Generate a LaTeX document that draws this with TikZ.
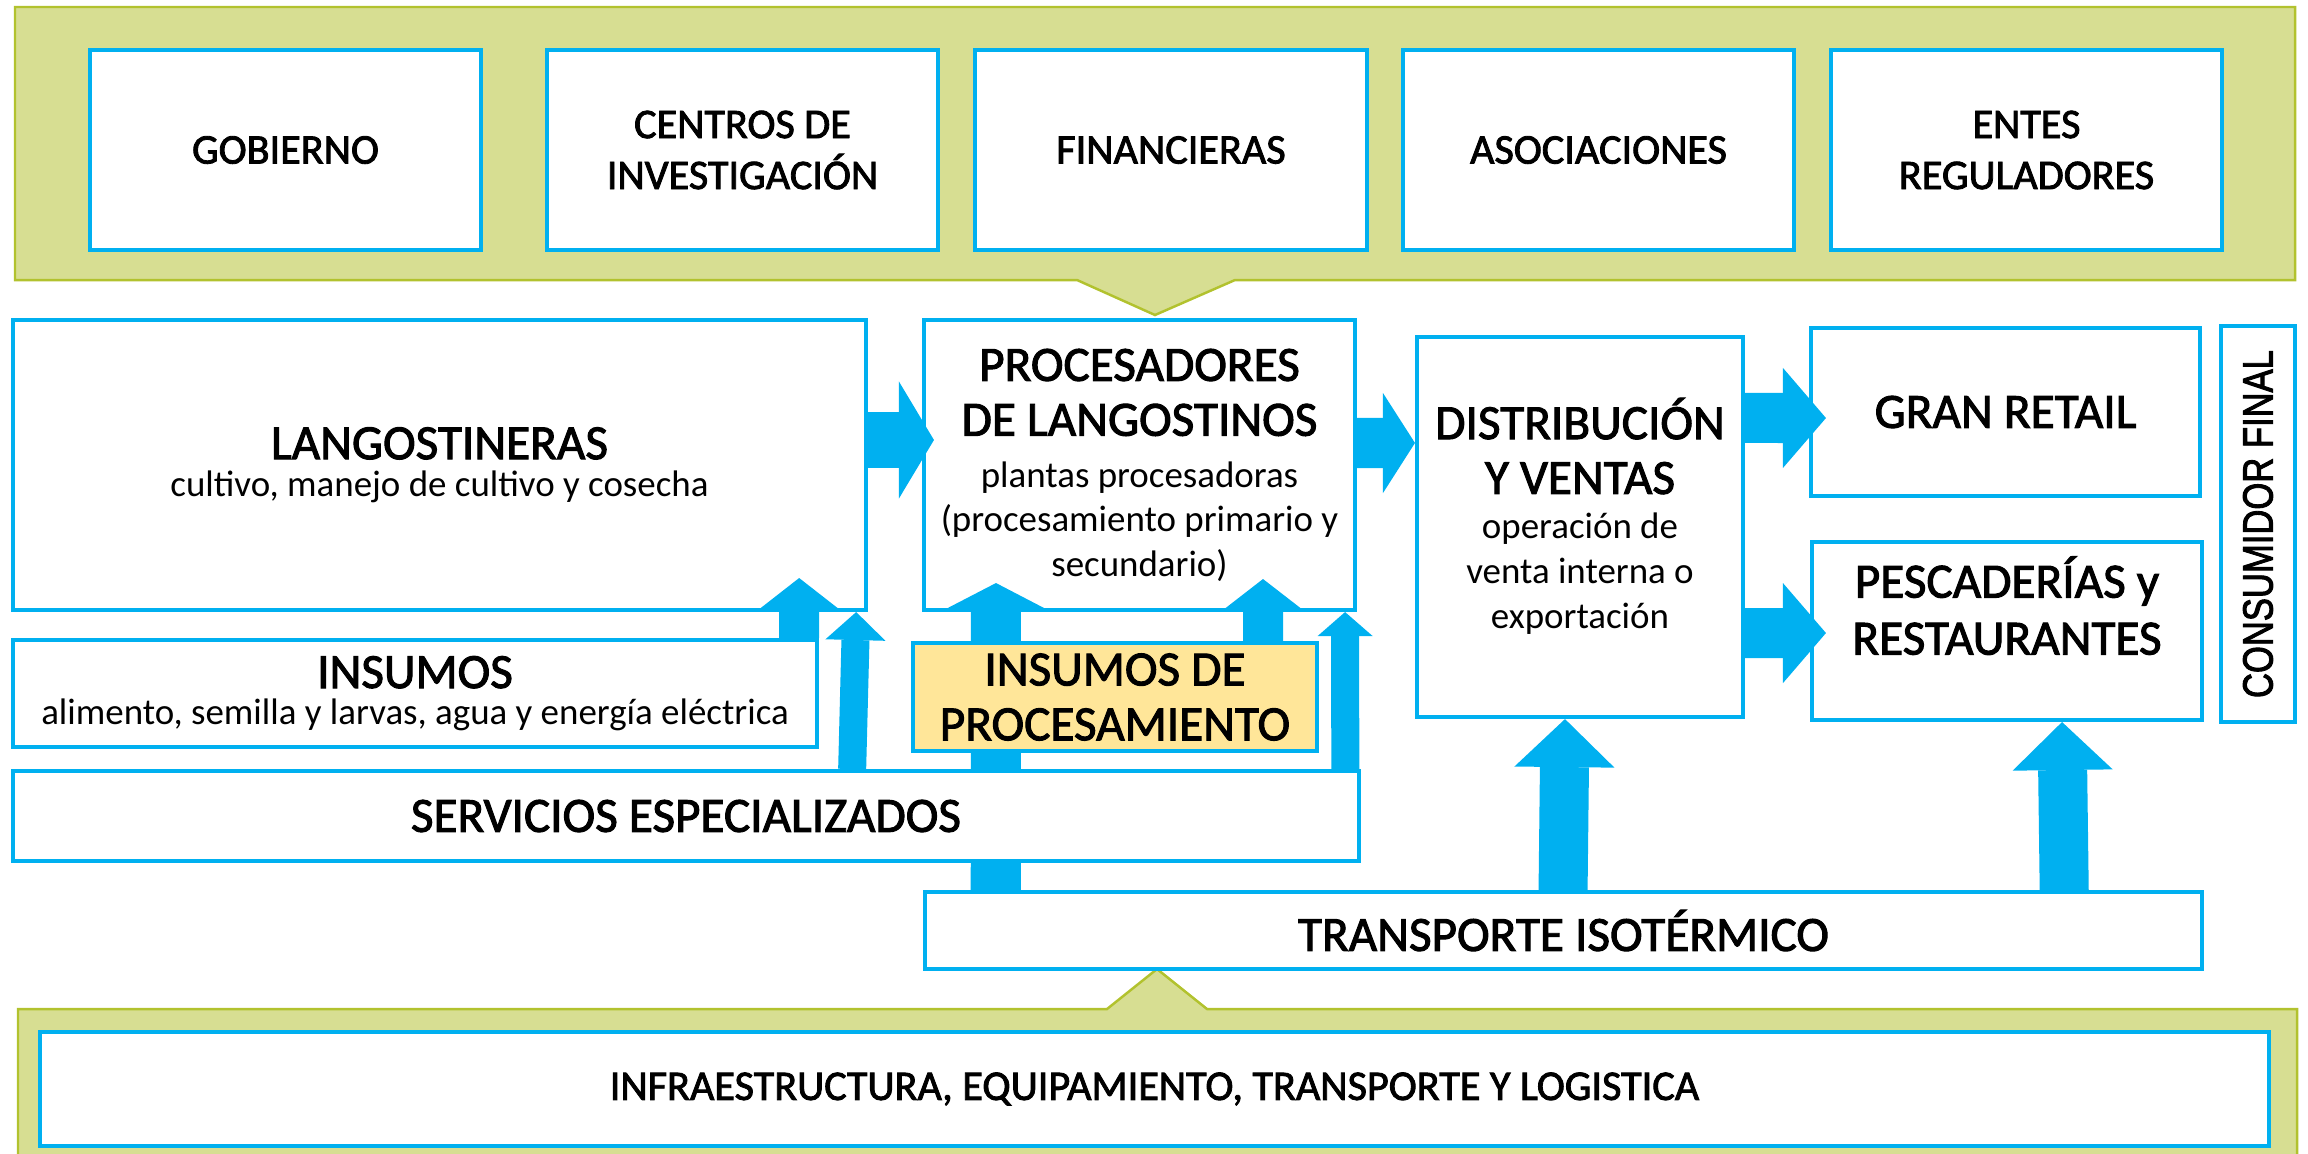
\documentclass[tikz,border=0pt]{standalone}
\usepackage{fontspec}
\setmainfont{Carlito}
\newfontfamily\gruesa[FakeBold=2]{Carlito}
\newfontfamily\consfont[FakeBold=2.5]{Liberation Sans}
\usetikzlibrary{arrows.meta}

\definecolor{azul}{RGB}{0,176,240}
\definecolor{oliva}{RGB}{215,222,146}
\definecolor{olivaborde}{RGB}{178,194,46}
\definecolor{crema}{RGB}{255,230,153}

\newcommand{\titulo}{\gruesa\fontsize{14}{15.6}\selectfont}
\newcommand{\bajada}{\normalfont\fontsize{10.5}{12.6}\selectfont}
\newcommand{\actor}{\gruesa\fontsize{12}{14.5}\selectfont}

\tikzset{
  caja/.style={draw=azul, line width=1.1pt, fill=white, align=center, inner sep=0pt, font=\titulo},
  panel/.style={draw=olivaborde, line width=0.7pt, fill=oliva},
  flecha/.style n args={3}{draw=azul, line width=#1, -{Triangle[length=#2, width=#3, line width=0pt]}}
}

\begin{document}
\begin{tikzpicture}[x=0.01cm, y=-0.01cm]
\useasboundingbox (0,0) rectangle (2308,1153);

% paneles
\draw[panel] (15,7) -- (2295,7) -- (2295,280) -- (1235,280) -- (1155,315) -- (1077,280) -- (15,280) -- cycle;
\draw[panel] (18,1170) -- (18,1009) -- (1107,1009) -- (1157,969) -- (1207,1009) -- (2297,1009) -- (2297,1170) -- cycle;

% actores
\node[caja, font=\actor, minimum width=3.91cm, minimum height=2cm] (gobierno) at (285.5,150) {GOBIERNO};
\node[caja, font=\actor, minimum width=3.91cm, minimum height=2cm] (centros) at (742.5,150) {CENTROS DE\\INVESTIGACIÓN};
\node[caja, font=\actor, minimum width=3.91cm, minimum height=2cm] (financieras) at (1171,150) {FINANCIERAS};
\node[caja, font=\actor, minimum width=3.91cm, minimum height=2cm] (asociaciones) at (1598.5,150) {ASOCIACIONES};
\node[caja, font=\actor, minimum width=3.91cm, minimum height=2cm] (entes) at (2026.5,150) {ENTES\\REGULADORES};

% cadena
\node[caja, minimum width=8.53cm, minimum height=2.9cm] (langos) at (439.5,465)
  {LANGOSTINERAS\\[-5pt]\bajada cultivo, manejo de cultivo y cosecha};
\node[caja, minimum width=4.31cm, minimum height=2.9cm] (procesa) at (1139.5,465)
  {PROCESADORES\\DE LANGOSTINOS\\[-0.9pt]\bajada plantas procesadoras\\[-3pt]\bajada (procesamiento primario y\\[-3pt]\bajada secundario)};
\node[caja, minimum width=3.26cm, minimum height=3.8cm, text depth=7.7pt] (distrib) at (1580,527)
  {DISTRIBUCIÓN\\Y VENTAS\\[-2.8pt]\bajada operación de\\[-2.8pt]\bajada venta interna o\\[-2.8pt]\bajada exportación};
\node[caja, minimum width=3.89cm, minimum height=1.68cm] (retail) at (2005.5,412) {GRAN RETAIL};
\node[caja, minimum width=3.9cm, minimum height=1.78cm, text depth=14.5pt] (pesca) at (2007,631) {PESCADERÍAS y\\[0.6pt]RESTAURANTES};
\node[caja, rotate=90, minimum width=3.96cm, minimum height=0.74cm] (consumidor) at (2258,524)
  {\consfont\fontsize{12}{14}\selectfont\scalebox{0.82}[1]{CONSUMIDOR FINAL}};
\node[caja, minimum width=8.04cm, minimum height=1.07cm] (insumos) at (415,693.5)
  {INSUMOS\\[-5.2pt]\bajada alimento, semilla y larvas, agua y energía eléctrica};
\node[caja, minimum width=12.77cm, minimum height=0.77cm] (transporte) at (1563.5,930.5) {TRANSPORTE ISOTÉRMICO};
\node[caja, font=\actor, minimum width=22.27cm, minimum height=1.14cm] (infra) at (1154.5,1089)
  {INFRAESTRUCTURA, EQUIPAMIENTO, TRANSPORTE Y LOGISTICA};

\draw[flecha={0.5cm}{0.27cm}{1.04cm}] ([xshift=0.73cm]transporte.north west) -- ([xshift=0.74cm, yshift=0.29cm]procesa.south west);

\node[caja, minimum width=13.46cm, minimum height=0.9cm] (servicios) at (686,816) {SERVICIOS ESPECIALIZADOS};
\node[caja, fill=crema, minimum width=4.04cm, minimum height=1.08cm] (insproc) at (1115,697) {INSUMOS DE\\PROCESAMIENTO};

% flechas
\draw[flecha={0.55cm}{0.35cm}{1.17cm}] ([yshift=0.25cm]langos.east) -- ([xshift=0.12cm, yshift=0.25cm]procesa.west);
\draw[flecha={0.5cm}{0.32cm}{1cm}] ([yshift=0.22cm]procesa.east) -- ([yshift=0.84cm]distrib.west);
\draw[flecha={0.5cm}{0.43cm}{1cm}] ([yshift=1.09cm]distrib.east) -- ([xshift=0.17cm, yshift=-0.06cm]retail.west);
\draw[flecha={0.5cm}{0.43cm}{1cm}] ([yshift=-1.06cm]distrib.east) -- ([xshift=0.16cm, yshift=-0.02cm]pesca.west);
\draw[flecha={0.4cm}{0.32cm}{0.82cm}] ([xshift=-0.2cm]insumos.north east) -- ([xshift=-0.69cm, yshift=0.34cm]langos.south east);
\draw[flecha={0.28cm}{0.28cm}{0.6cm}] ([xshift=8.41cm]servicios.north west) -- ([xshift=-0.12cm]langos.south east);
\draw[flecha={0.4cm}{0.31cm}{0.8cm}] ([xshift=-0.56cm]insproc.north east) -- ([xshift=-0.94cm, yshift=0.33cm]procesa.south east);
\draw[flecha={0.28cm}{0.24cm}{0.55cm}] ([xshift=-0.16cm]servicios.north east) -- ([xshift=-0.12cm]procesa.south east);
\draw[flecha={0.49cm}{0.48cm}{1cm}] ([xshift=6.4cm]transporte.north west) -- ([xshift=-0.15cm]distrib.south);
\draw[flecha={0.49cm}{0.48cm}{1cm}] ([xshift=-1.4cm]transporte.north east) -- ([xshift=0.55cm]pesca.south);

\end{tikzpicture}
\end{document}
